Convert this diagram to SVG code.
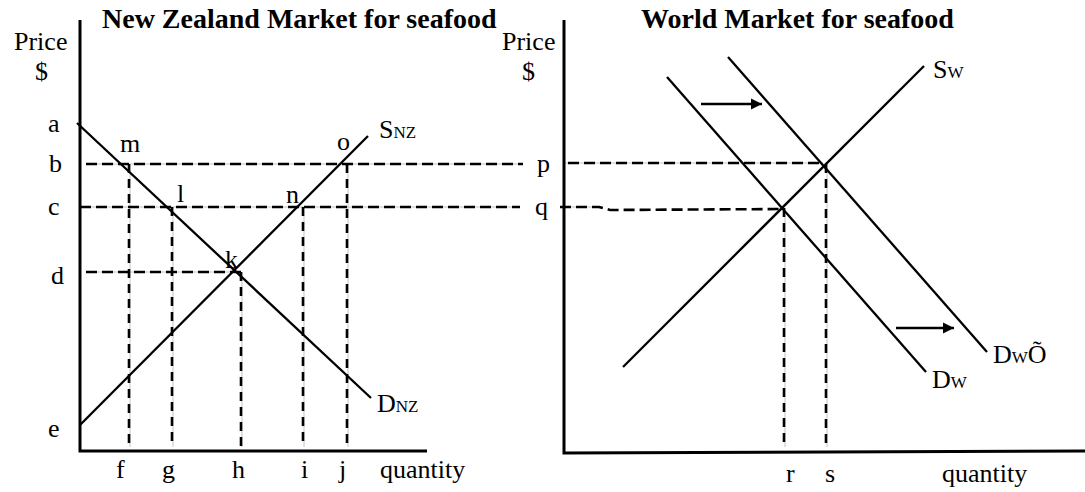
<svg xmlns="http://www.w3.org/2000/svg" width="1085" height="492" viewBox="0 0 1085 492">
<style>
text{font-family:"Liberation Serif","Times New Roman",serif;font-size:26px;fill:#000}
.title{font-weight:bold;font-size:28px}
.sub{font-size:17px}
.axis{stroke:#000;stroke-width:3;fill:none}
.curve{stroke:#000;stroke-width:2.3;fill:none}
.guide{stroke:#c4c4c4;stroke-width:1;fill:none}
.hd{stroke:#000;stroke-width:2.6;stroke-dasharray:11 5;fill:none}
.vd{stroke:#000;stroke-width:2.6;stroke-dasharray:9 6;fill:none}
</style>
<defs>
<marker id="ah" viewBox="0 0 10 10" refX="10" refY="5" markerWidth="5" markerHeight="5" orient="auto" markerUnits="strokeWidth">
<path d="M0,0 L10,5 L0,10 z" fill="#000"/>
</marker>
</defs>
<rect width="1085" height="492" fill="#fff"/>

<g id="nz-chart">
<text class="title" x="102" y="28">New Zealand Market for seafood</text>
<text x="14" y="50">Price</text>
<text x="35" y="80">$</text>
<g id="nz-guides">
<line class="guide" x1="86" y1="164" x2="523" y2="164"/>
<line class="guide" x1="80" y1="207" x2="520" y2="207"/>
<line class="guide" x1="86" y1="272" x2="241" y2="272"/>
<line class="guide" x1="130" y1="164" x2="130" y2="447"/>
<line class="guide" x1="173" y1="207" x2="173" y2="447"/>
<line class="guide" x1="242" y1="272" x2="242" y2="447"/>
<line class="guide" x1="304" y1="207" x2="304" y2="447"/>
<line class="guide" x1="348" y1="164" x2="348" y2="447"/>
<line class="hd" x1="86" y1="164" x2="523" y2="164"/>
<line class="hd" x1="80" y1="207" x2="520" y2="207"/>
<line class="hd" x1="86" y1="272" x2="241" y2="272"/>
<line class="vd" x1="129" y1="164" x2="129" y2="447"/>
<line class="vd" x1="172" y1="207" x2="172" y2="447"/>
<line class="vd" x1="241" y1="272" x2="241" y2="447"/>
<line class="vd" x1="303" y1="207" x2="303" y2="447"/>
<line class="vd" x1="347" y1="164" x2="347" y2="447"/>
</g>
<polyline class="axis" points="80,20 80,451 427,451"/>
<line id="d-nz" class="curve" x1="77" y1="123" x2="371" y2="398"/>
<line id="s-nz" class="curve" x1="80" y1="425" x2="368" y2="136"/>
<text x="48" y="132">a</text>
<text x="49" y="172">b</text>
<text x="48" y="215">c</text>
<text x="51" y="284">d</text>
<text x="48" y="437">e</text>
<text x="120" y="152">m</text>
<text x="177" y="202">l</text>
<text x="286" y="203">n</text>
<text x="225" y="268">k</text>
<text x="337" y="150">o</text>
<text x="379" y="138">S<tspan class="sub">NZ</tspan></text>
<text x="377" y="412">D<tspan class="sub">NZ</tspan></text>
<text x="116" y="478">f</text>
<text x="162" y="478">g</text>
<text x="232" y="478">h</text>
<text x="301" y="478">i</text>
<text x="339" y="478">j</text>
<text x="380" y="478">quantity</text>
</g>

<g id="world-chart">
<text class="title" x="641" y="28">World Market for seafood</text>
<text x="502" y="50">Price</text>
<text x="522" y="80">$</text>
<text x="537" y="172">p</text>
<text x="535" y="215">q</text>
<g id="world-guides">
<line class="guide" x1="564" y1="163" x2="823" y2="163"/>
<line class="guide" x1="560" y1="207" x2="600" y2="207"/>
<line class="guide" x1="785" y1="208" x2="785" y2="447"/>
<line class="guide" x1="827" y1="164" x2="827" y2="447"/>
<line class="hd" x1="568" y1="163" x2="823" y2="163"/>
<polyline class="hd" points="560,207 599,207 610,210 782,209"/>
<line class="vd" x1="784" y1="208" x2="784" y2="447"/>
<line class="vd" x1="826" y1="164" x2="826" y2="447"/>
</g>
<polyline class="axis" points="564,20 564,453 1085,451"/>
<line id="s-w" class="curve" x1="623" y1="367" x2="924" y2="66"/>
<line id="d-w" class="curve" x1="667" y1="77" x2="926" y2="372"/>
<line id="d-w2" class="curve" x1="728" y1="57" x2="987" y2="352"/>
<line class="curve" x1="701" y1="104" x2="762" y2="104" stroke-width="2.6" marker-end="url(#ah)"/>
<line class="curve" x1="896" y1="328" x2="954" y2="328" stroke-width="2.6" marker-end="url(#ah)"/>
<text x="933" y="78">S<tspan class="sub">W</tspan></text>
<text x="932" y="388">D<tspan class="sub">W</tspan></text>
<text x="993" y="363">D<tspan class="sub">W</tspan>Õ</text>
<text x="786" y="482">r</text>
<text x="825" y="482">s</text>
<text x="942" y="482">quantity</text>
</g>
</svg>
